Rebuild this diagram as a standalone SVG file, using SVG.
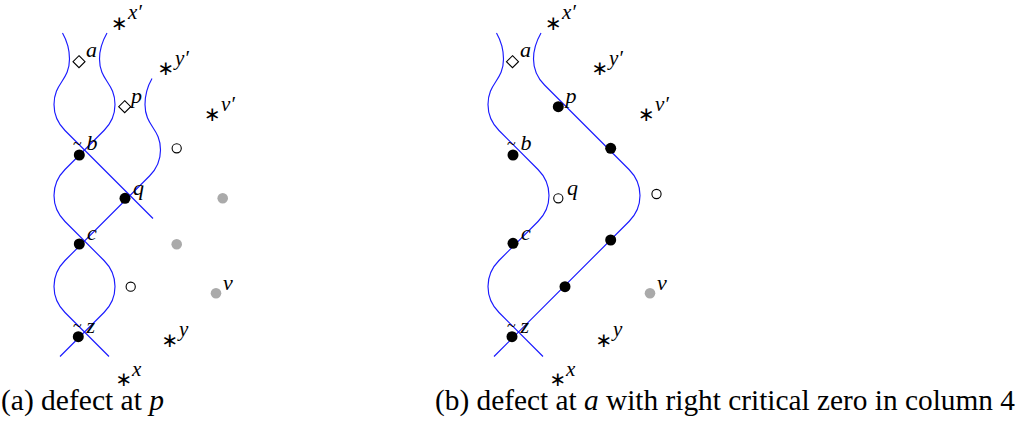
<svg xmlns="http://www.w3.org/2000/svg" width="1024" height="438" viewBox="0 0 1024 438">
<style>
.s{fill:none;stroke:#1a1aff;stroke-width:1.15}
.d{fill:#000}
.g{fill:#aaaaaa}
.o{fill:none;stroke:#000;stroke-width:1.1}
.l{font-family:"Liberation Serif",serif;font-style:italic;font-size:22px;fill:#000}
.sup{font-family:"Liberation Serif",serif;font-style:italic;font-size:21px;fill:#000}
.t{font-family:"Liberation Serif",serif;font-size:16px;fill:#000}
.st{font-family:"DejaVu Sans",sans-serif;font-size:20px;text-anchor:middle;fill:#000}
.cap{font-family:"Liberation Serif",serif;font-size:29.5px;fill:#000}
</style>
<defs>
<path id="dia" d="M0,-6 L6,0 L0,6 L-6,0 Z" fill="none" stroke="#000" stroke-width="1.1"/>
</defs>
<rect width="1024" height="438" fill="#fff"/>
<g id="connectors">
<path class="s" d="M 62.5,33 C 66.5,40 69.5,49 69.5,59 C 69.5,81 54,82.5 54,104.5 C 54,114.5 58,123.5 65,130.5 L 153,218.5"/>
<path class="s" d="M 107,33 C 103,40 99.5,49 99.5,59 C 99.5,81 115,82.5 115,104.5 C 115,114.5 111,123.5 104,130.5 L 65,169.5 C 58,176.5 54,185.5 54,195.5 C 54,205.5 58,214.5 65,221.5 L 104,260.5 C 111,267.5 115,276.5 115,286.5 C 115,296.5 111,305.5 104,312.5 L 60,356.5"/>
<path class="s" d="M 152,78.5 C 148,85.5 145,94.5 145,104.5 C 145,126.5 160.5,128 160.5,150 C 160.5,160 156.5,169 149.5,176 L 65,260.5 C 58,267.5 54,276.5 54,286.5 C 54,296.5 58,305.5 65,312.5 L 109,356.5"/>
<path class="s" d="M 496.5,33 C 500.5,40 503.5,49 503.5,59 C 503.5,81 488,82.5 488,104.5 C 488,114.5 492,123.5 499,130.5 L 538,169.5 C 545,176.5 549,185.5 549,195.5 C 549,205.5 545,214.5 538,221.5 L 499,260.5 C 492,267.5 488,276.5 488,286.5 C 488,296.5 492,305.5 499,312.5 L 543,356.5"/>
<path class="s" d="M 541,33 C 537,40 533.5,49 533.5,59 C 533.5,69 537.5,78 544.5,85 L 629,169.5 C 636,176.5 640,185.5 640,195.5 C 640,205.5 636,214.5 629,221.5 L 494,356.5"/>
</g>
<g id="panel-a">
<g id="a-a"><use href="#dia" x="79" y="61.7"/><text class="l" x="86" y="57">a</text></g>
<g id="a-p"><use href="#dia" x="124.7" y="106.7"/><text class="l" x="131" y="103">p</text></g>
<g id="a-b"><circle class="d" cx="79.3" cy="155" r="5.5"/><text class="t" x="73" y="149">~</text><text class="l" x="86.5" y="150">b</text></g>
<g id="a-q"><circle class="d" cx="125" cy="198.3" r="5.5"/><text class="l" x="133" y="195">q</text></g>
<g id="a-c"><circle class="d" cx="79.3" cy="244" r="5.5"/><text class="l" x="87" y="240">c</text></g>
<g id="a-z"><circle class="d" cx="78.3" cy="336.7" r="5.5"/><text class="t" x="73" y="331">~</text><text class="l" x="86.5" y="333">z</text></g>
<g id="a-o1"><circle class="o" cx="176.7" cy="148.3" r="4.6"/></g>
<g id="a-o2"><circle class="o" cx="130.7" cy="286.7" r="4.6"/></g>
<g id="a-g1"><circle class="g" cx="222.7" cy="198.3" r="5.3"/></g>
<g id="a-g2"><circle class="g" cx="176.7" cy="244.3" r="5.3"/></g>
<g id="a-v"><circle class="g" cx="216" cy="293.3" r="5.3"/><text class="l" x="223" y="290">v</text></g>
<g id="a-xp"><text class="st" x="119.3" y="29.5">∗</text><text class="sup" x="128" y="19">x′</text></g>
<g id="a-yp"><text class="st" x="166" y="75">∗</text><text class="sup" x="175" y="64.5">y′</text></g>
<g id="a-vp"><text class="st" x="212.3" y="121">∗</text><text class="sup" x="221" y="110.5">v′</text></g>
<g id="a-y"><text class="st" x="170" y="347">∗</text><text class="sup" x="179" y="335.5">y</text></g>
<g id="a-x"><text class="st" x="124" y="386">∗</text><text class="sup" x="132" y="375.5">x</text></g>
<text class="cap" x="1" y="410">(a) defect at <tspan font-style="italic">p</tspan></text>
</g>
<g id="panel-b">
<g id="b-a"><use href="#dia" x="512.5" y="61.7"/><text class="l" x="520" y="57">a</text></g>
<g id="b-p"><circle class="d" cx="558.3" cy="106.7" r="5.5"/><text class="l" x="565.5" y="103">p</text></g>
<g id="b-n1"><circle class="d" cx="610.7" cy="148.3" r="5.5"/></g>
<g id="b-b"><circle class="d" cx="513" cy="155" r="5.5"/><text class="t" x="507" y="149">~</text><text class="l" x="520.5" y="150">b</text></g>
<g id="b-q"><circle class="o" cx="558.3" cy="198.3" r="4.6"/><text class="l" x="567" y="195">q</text></g>
<g id="b-o1"><circle class="o" cx="656.5" cy="194" r="4.6"/></g>
<g id="b-c"><circle class="d" cx="513" cy="243.3" r="5.5"/><text class="l" x="521" y="240">c</text></g>
<g id="b-n2"><circle class="d" cx="610.7" cy="240" r="5.5"/></g>
<g id="b-n3"><circle class="d" cx="565" cy="286.7" r="5.5"/></g>
<g id="b-z"><circle class="d" cx="512" cy="336.7" r="5.5"/><text class="t" x="507" y="331">~</text><text class="l" x="520.5" y="333">z</text></g>
<g id="b-v"><circle class="g" cx="650" cy="293.3" r="5.3"/><text class="l" x="657" y="290">v</text></g>
<g id="b-xp"><text class="st" x="553.3" y="29.5">∗</text><text class="sup" x="562" y="19">x′</text></g>
<g id="b-yp"><text class="st" x="600" y="75">∗</text><text class="sup" x="609" y="64.5">y′</text></g>
<g id="b-vp"><text class="st" x="646.3" y="121">∗</text><text class="sup" x="655" y="110.5">v′</text></g>
<g id="b-y"><text class="st" x="604" y="347">∗</text><text class="sup" x="613" y="335.5">y</text></g>
<g id="b-x"><text class="st" x="558" y="386">∗</text><text class="sup" x="566" y="375.5">x</text></g>
<text class="cap" x="435" y="410" textLength="580" lengthAdjust="spacingAndGlyphs">(b) defect at <tspan font-style="italic">a</tspan> with right critical zero in column 4</text>
</g>
</svg>
